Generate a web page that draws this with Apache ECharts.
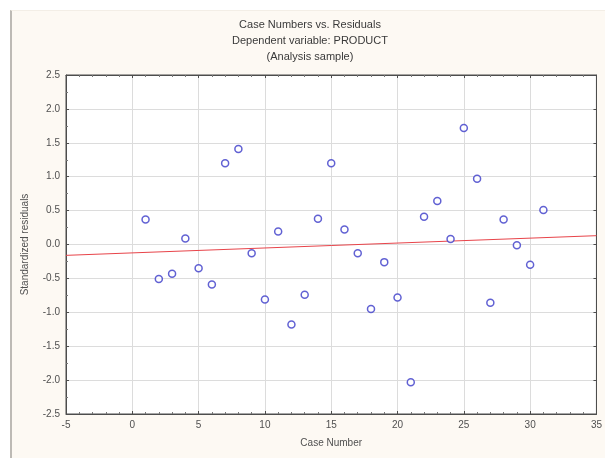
<!DOCTYPE html>
<html>
<head>
<meta charset="utf-8">
<script src="https://cdn.jsdelivr.net/npm/echarts@6/dist/echarts.min.js"></script>
<style>
  body { margin: 0; background: #fff; }
  .panel {
    position: absolute; left: 10px; top: 10px; right: 0; bottom: 0;
    background: #fdf9f3;
    border-left: 2px solid #bdbab5;
    border-top: 1px solid #f3eee6;
  }
  .chart {
    position: absolute; left: 0; top: 0;
    width: 605px; height: 458px;
  }
</style>
</head>
<body>
<div class="panel"></div>
<div id="main" class="chart"></div>
<script>
// case numbers and standardized residuals
var caseNumbers = [1, 2, 3, 4, 5, 6, 7, 8, 9, 10, 11, 12, 13, 14, 15, 16,
  17, 18, 19, 20, 21, 22, 23, 24, 25, 26, 27, 28, 29, 30, 31];
var residuals = [0.37, -0.51, -0.43, 0.09, -0.35, -0.59, 1.20, 1.41, -0.13, -0.81,
  0.19, -1.18, -0.74, 0.38, 1.20, 0.22, -0.13, -0.95, -0.26, -0.78, -2.03,
  0.41, 0.64, 0.08, 1.72, 0.97, -0.86, 0.37, -0.01, -0.30, 0.51];
// fitted line (ends)
var fitX = [-5, 35];
var fitY = [-0.16, 0.13];

var titleLines = ['Case Numbers vs. Residuals', 'Dependent variable: PRODUCT', '(Analysis sample)'];

var points = caseNumbers.map(function (c, i) { return [c, residuals[i]]; });
var fitPoints = fitX.map(function (x, i) { return [x, fitY[i]]; });

var chart = echarts.init(document.getElementById('main'));
var textCol = '#505050';
var frameCol = '#4d4d4d';

// shared axis frame pieces
var frameLine = { show: true, onZero: false, lineStyle: { color: frameCol } };
var frameTick = { show: true, inside: true, length: 3, lineStyle: { color: frameCol } };

chart.setOption({
  backgroundColor: 'transparent',
  animation: false,
  title: {
    text: titleLines.join('\n'),
    left: 305,
    textAlign: 'center',
    top: 12,
    textStyle: { fontFamily: 'Liberation Sans', fontSize: 11, fontWeight: 'normal', color: '#3a3a3a', lineHeight: 16 }
  },
  grid: {
    left: 66, right: 8, top: 75, bottom: 44,
    show: true, backgroundColor: '#fff', borderColor: frameCol, borderWidth: 1
  },
  xAxis: [{
    type: 'value', min: -5, max: 35, interval: 5,
    name: 'Case Number', nameLocation: 'middle', nameGap: 24,
    nameTextStyle: { fontFamily: 'Liberation Sans', fontSize: 10, color: textCol },
    axisLine: frameLine,
    axisTick: frameTick,
    minorTick: { show: true, splitNumber: 5, length: 2, lineStyle: { color: '#777' } },
    axisLabel: { fontFamily: 'Liberation Sans', fontSize: 10, color: textCol, margin: 6 },
    splitLine: { show: true, lineStyle: { color: '#dcdcdc' } }
  }, {
    type: 'value', min: -5, max: 35, interval: 5, position: 'top',
    axisLine: frameLine,
    axisTick: frameTick,
    minorTick: { show: true, splitNumber: 5, length: 2, lineStyle: { color: '#777' } },
    axisLabel: { show: false },
    splitLine: { show: false }
  }],
  yAxis: [{
    type: 'value', min: -2.5, max: 2.5, interval: 0.5,
    name: 'Standardized residuals', nameLocation: 'middle', nameGap: 36,
    nameTextStyle: { fontFamily: 'Liberation Sans', fontSize: 10, color: textCol },
    axisLine: frameLine,
    axisTick: frameTick,
    minorTick: { show: true, splitNumber: 2, length: 2, lineStyle: { color: '#777' } },
    axisLabel: {
      fontFamily: 'Liberation Sans', fontSize: 10, color: textCol, margin: 6,
      formatter: function (v) { return v.toFixed(1); }
    },
    splitLine: { show: true, lineStyle: { color: '#dcdcdc' } }
  }, {
    type: 'value', min: -2.5, max: 2.5, interval: 0.5, position: 'right',
    axisLine: frameLine,
    axisTick: frameTick,
    axisLabel: { show: false },
    splitLine: { show: false }
  }],
  series: [{
    type: 'line',
    data: fitPoints,
    symbol: 'none',
    lineStyle: { color: '#e8444a', width: 1 },
    z: 2
  }, {
    type: 'scatter',
    data: points,
    symbol: 'circle',
    symbolSize: 7,
    itemStyle: { color: '#fff', borderColor: '#3a3ac8', borderWidth: 1.5 },
    z: 3
  }]
});
</script>
</body>
</html>
